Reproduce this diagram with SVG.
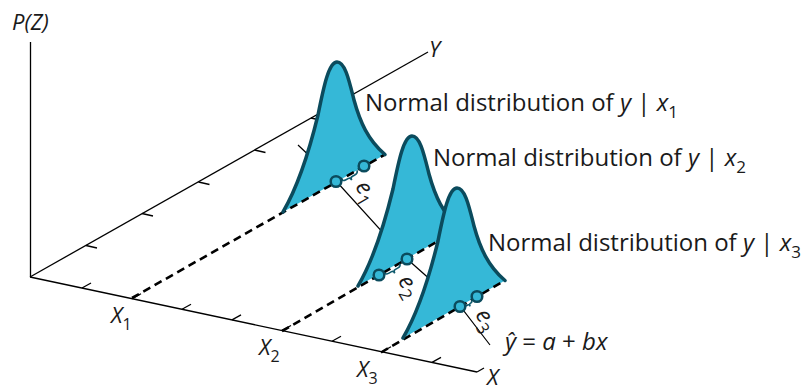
<svg xmlns="http://www.w3.org/2000/svg" width="803" height="391" viewBox="0 0 803 391">
<defs>
<style>
.ax{stroke:#000;stroke-width:1.3;fill:none}
.dash{stroke:#000;stroke-width:2.6;stroke-dasharray:8 5;fill:none}
.reg{stroke:#000;stroke-width:1.2;fill:none}
.pt{fill:#35B8D7;stroke:#0B4B5D;stroke-width:2.5}
.br{fill:none;stroke:#0F5A6D;stroke-width:1.6}
.t{font-family:"Open Sans","Noto Sans",sans-serif;fill:#1a1a1a}
.lab{font-size:24px}
.ax-l{font-size:22px;font-style:italic}
.i{font-style:italic}
.e{font-size:23px;font-style:italic}
</style>
<path id="bell" d="M0,0 C14,-24 26,-60 35,-97 C41,-127 46,-150 54,-150 C62,-150 66,-132 71,-112 C77,-90 85,-72 102,-57.5"/>
</defs>

<g id="axes">
<line class="ax" x1="30.5" y1="42" x2="30.5" y2="277"/>
<line class="ax" x1="30" y1="277" x2="428" y2="52"/>
<line class="ax" x1="30" y1="277" x2="477" y2="372"/>
<line class="ax" x1="477" y1="372" x2="484" y2="368"/>
<g class="ax">
<line x1="86" y1="245.5" x2="97" y2="248"/>
<line x1="142" y1="213.5" x2="153" y2="216"/>
<line x1="198.5" y1="182" x2="209.5" y2="184.5"/>
<line x1="254.5" y1="150" x2="265.5" y2="152.5"/>
<line x1="311" y1="118" x2="322" y2="120.5"/>
<line x1="82" y1="288" x2="91" y2="283"/>
<line x1="132" y1="298.7" x2="141" y2="293.7"/>
<line x1="182" y1="309.3" x2="191" y2="304.3"/>
<line x1="232" y1="319.9" x2="241" y2="314.9"/>
<line x1="282" y1="330.5" x2="291" y2="325.5"/>
<line x1="332" y1="341.2" x2="341" y2="336.2"/>
<line x1="382" y1="351.8" x2="391" y2="346.8"/>
<line x1="432" y1="362.4" x2="441" y2="357.4"/>
</g>
<text class="t ax-l" x="12" y="30">P(Z)</text>
<text class="t ax-l" x="429" y="57">Y</text>
<text class="t ax-l" x="487" y="385">X</text>
<text class="t ax-l" x="111" y="323">X<tspan font-size="16" font-style="normal" dy="7">1</tspan></text>
<text class="t ax-l" x="259" y="355">X<tspan font-size="16" font-style="normal" dy="7">2</tspan></text>
<text class="t ax-l" x="357" y="377">X<tspan font-size="16" font-style="normal" dy="7">3</tspan></text>
</g>

<g id="connectors">
<polyline class="reg" points="298,145 336,181 406,258 460,306 490,345"/>
</g>

<g id="dist1">
<use href="#bell" transform="translate(283,212)" fill="#35B8D7" stroke="none"/>
<line class="dash" x1="132" y1="298" x2="385" y2="154.5"/>
<use href="#bell" transform="translate(283,212)" fill="none" stroke="#0B4B5D" stroke-width="3.5" stroke-linecap="round"/>
<path class="br" transform="translate(341,179) rotate(-28.2)" d="M0,0 q0,3 4,3 h3 q2,0 2,3 q0,-3 2,-3 h3 q4,0 4,-3"/>
<circle class="pt" cx="336" cy="181.5" r="5.3"/>
<circle class="pt" cx="364" cy="166" r="5.3"/>
<text class="t e" transform="translate(354.7,186.3) rotate(60)">e<tspan font-size="17" font-style="normal" dy="6">1</tspan></text>
<text class="t lab" x="365" y="111">Normal distribution of <tspan class="i">y</tspan> | <tspan class="i">x</tspan><tspan font-size="17" dy="7">1</tspan></text>
</g>

<g id="dist2">
<use href="#bell" transform="translate(358,286)" fill="#35B8D7" stroke="none"/>
<line class="dash" x1="282" y1="331" x2="460" y2="228.5"/>
<use href="#bell" transform="translate(358,286)" fill="none" stroke="#0B4B5D" stroke-width="3.5" stroke-linecap="round"/>
<path class="br" transform="translate(384,272.5) rotate(-29.7)" d="M0,0 q0,3 4,3 h3 q2,0 2,3 q0,-3 2,-3 h3 q4,0 4,-3"/>
<circle class="pt" cx="379" cy="275" r="5.3"/>
<circle class="pt" cx="407" cy="259" r="5.3"/>
<text class="t e" transform="translate(397.4,280.5) rotate(60)">e<tspan font-size="17" font-style="normal" dy="6">2</tspan></text>
<text class="t lab" x="433" y="166">Normal distribution of <tspan class="i">y</tspan> | <tspan class="i">x</tspan><tspan font-size="17" dy="7">2</tspan></text>
</g>

<g id="dist3">
<use href="#bell" transform="translate(403,338)" fill="#35B8D7" stroke="none"/>
<line class="dash" x1="381" y1="352.5" x2="505" y2="280.5"/>
<use href="#bell" transform="translate(403,338)" fill="none" stroke="#0B4B5D" stroke-width="3.5" stroke-linecap="round"/>
<path class="br" transform="translate(464.5,304.5) rotate(-30.5)" d="M0,0 q0,2 2,2 h0.5 q1.5,0 1.5,2.5 q0,-2.5 1.5,-2.5 h0.5 q2,0 2,-2"/>
<circle class="pt" cx="460" cy="306.5" r="5.3"/>
<circle class="pt" cx="477" cy="296.5" r="5.3"/>
<text class="t e" transform="translate(474.7,314.3) rotate(60)">e<tspan font-size="17" font-style="normal" dy="6">3</tspan></text>
<text class="t lab" x="488" y="251">Normal distribution of <tspan class="i">y</tspan> | <tspan class="i">x</tspan><tspan font-size="17" dy="7">3</tspan></text>
</g>

<g id="equation">
<text class="t lab" x="505" y="350"><tspan class="i">ŷ</tspan> = <tspan class="i">a</tspan> + <tspan class="i">bx</tspan></text>
</g>
</svg>
